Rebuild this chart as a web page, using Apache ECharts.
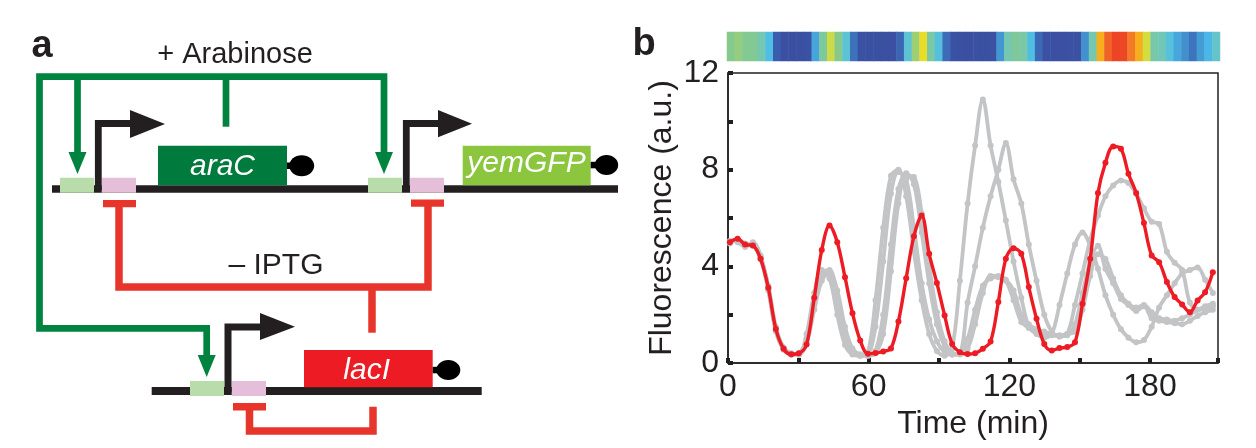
<!DOCTYPE html>
<html>
<head>
<meta charset="utf-8">
<script src="https://cdn.jsdelivr.net/npm/echarts@6/dist/echarts.min.js"></script>
<style>
html, body { margin: 0; padding: 0; background: #fff; }
#main { width: 1256px; height: 448px; }
</style>
</head>
<body>
<div id="main"></div>
<script>
// sampling times (min), shared by all traces
const times = [0.8, 4.1, 7.3, 10.6, 13.9, 17.2, 20.4, 23.7, 27.0, 30.2,
  33.5, 36.8, 40.0, 43.3, 46.6, 49.9, 53.1, 56.4, 59.7, 62.9,
  66.2, 69.5, 72.7, 76.0, 79.3, 82.6, 85.8, 89.1, 92.4, 95.6,
  98.9, 102.2, 105.4, 108.7, 112.0, 115.3, 118.5, 121.8, 125.1, 128.3,
  131.6, 134.9, 138.1, 141.4, 144.7, 148.0, 151.2, 154.5, 157.8, 161.0,
  164.3, 167.6, 170.8, 174.1, 177.4, 180.7, 183.9, 187.2, 190.5, 193.7,
  197.0, 200.3, 203.5, 206.8];

// highlighted cell (red) - also drives the colour strip
const redCell = [5.0, 5.14, 4.9, 4.86, 4.31, 3.11, 1.41, 0.59, 0.36, 0.4,
  0.77, 2.7, 4.68, 5.69, 5.0, 3.55, 2.06, 0.93, 0.38, 0.41,
  0.48, 0.6, 1.72, 3.51, 5.25, 6.1, 4.52, 3.31, 1.97, 0.79,
  0.45, 0.37, 0.4, 0.59, 0.89, 2.52, 4.31, 4.75, 4.52, 3.14,
  1.83, 0.79, 0.52, 0.62, 0.66, 0.86, 2.45, 4.31, 7.03, 8.29,
  8.96, 8.87, 7.83, 7.03, 5.79, 4.45, 4.17, 3.35, 2.73, 2.42,
  2.1, 2.59, 2.93, 3.76];

// other cells (grey)
const grayA = [5.0, 5.05, 4.85, 4.95, 4.4, 3.0, 1.3, 0.55, 0.35, 0.35,
  1.2, 2.9, 3.85, 3.5, 2.0, 0.75, 0.35, 0.3, 0.45, 2.6,
  5.6, 7.75, 8.0, 6.9, 4.6, 2.6, 1.2, 0.5, 0.3, 0.6,
  3.4, 6.6, 9.0, 10.9, 9.0, 7.5, 5.9, 4.2, 2.7, 1.5,
  1.2, 1.05, 1.2, 2.4, 3.7, 4.9, 5.4, 4.85, 3.9, 2.8,
  2.0, 1.4, 1.05, 0.86, 0.95, 1.5, 2.3, 2.8, 3.3, 3.7,
  3.85, 3.95, 3.45, 2.9];
const grayB = [4.95, 5.1, 4.95, 4.9, 4.35, 3.2, 1.5, 0.65, 0.4, 0.35,
  0.9, 2.4, 3.7, 3.85, 2.8, 1.3, 0.5, 0.35, 0.3, 0.5,
  2.0, 4.9, 7.2, 7.85, 7.4, 5.4, 3.3, 1.6, 0.7, 0.35,
  0.4, 2.5, 4.0, 5.6, 6.9, 8.0, 9.1, 7.6, 6.6, 4.9,
  3.4, 2.0, 1.3, 1.1, 1.2, 2.4, 3.7, 5.1, 6.1, 6.9,
  7.35, 7.55, 7.45, 7.0, 6.4, 5.85, 5.75, 4.6, 4.15, 3.85,
  2.5, 2.2, 2.25, 2.35];
const grayC = [5.05, 5.0, 4.8, 5.0, 4.45, 3.1, 1.35, 0.6, 0.35, 0.4,
  1.0, 2.6, 3.6, 3.7, 2.4, 1.0, 0.4, 0.3, 0.35, 1.5,
  4.2, 7.0, 7.9, 7.6, 5.6, 3.3, 1.8, 0.9, 0.45, 0.35,
  0.4, 1.0, 2.2, 3.2, 3.5, 3.55, 3.4, 2.6, 1.7, 1.45,
  1.25, 1.2, 1.15, 1.1, 1.15, 1.6, 2.9, 4.2, 4.85, 3.9,
  3.3, 2.65, 2.4, 2.15, 2.35, 1.85, 1.75, 1.7, 1.65, 1.6,
  1.75, 1.95, 2.1, 2.2];
const grayD = [5.0, 5.1, 4.9, 4.85, 4.3, 3.05, 1.4, 0.6, 0.35, 0.35,
  0.8, 2.2, 3.4, 3.75, 3.0, 1.5, 0.6, 0.35, 0.3, 0.4,
  1.2, 3.8, 6.6, 7.75, 7.7, 6.2, 4.0, 2.1, 0.9, 0.4,
  0.35, 0.6, 1.6, 2.9, 3.6, 3.6, 3.45, 3.0, 2.0, 1.6,
  1.4, 1.3, 1.2, 1.15, 1.2, 1.3, 2.2, 3.6, 4.5, 4.3,
  3.5, 2.8, 2.45, 2.3, 2.4, 2.1, 1.85, 1.8, 1.75, 1.85,
  2.0, 2.2, 2.35, 2.45];
const grayCells = [grayA, grayB, grayC, grayD];

const xTickLabels = [0, 60, 120, 180];
const yTickLabels = [0, 4, 8, 12];

const FONT = '"Liberation Sans", Arial, Helvetica, sans-serif';
const INK = '#231f20';
const GREEN = '#00833f';
const RED = '#e8352b';

// ---- panel a: circuit drawing ----
const G = [];
function rect(x, y, w, h, fill) {
  G.push({ type: 'rect', silent: true, shape: { x: x, y: y, width: w, height: h }, style: { fill: fill } });
}
function path(points, stroke, lw) {
  G.push({ type: 'polyline', silent: true, shape: { points: points },
    style: { stroke: stroke, lineWidth: lw, fill: null, lineJoin: 'miter', lineCap: 'butt' } });
}
function tri(points, fill) {
  G.push({ type: 'polygon', silent: true, shape: { points: points }, style: { fill: fill } });
}
function arrowDown(x, tipY) {
  tri([[x - 9, tipY - 22], [x + 9, tipY - 22], [x, tipY]], GREEN);
}
function blob(cx, cy, rx, ry) {
  G.push({ type: 'ellipse', silent: true, shape: { cx: cx, cy: cy, rx: rx, ry: ry }, style: { fill: '#000' } });
}
function label(text, x, y, font, fill) {
  G.push({ type: 'text', silent: true, x: x, y: y,
    style: { text: text, font: font, fill: fill, textAlign: 'center', textVerticalAlign: 'middle',
      align: 'center', verticalAlign: 'middle' } });
}

// DNA backbones
rect(52, 185.2, 566, 7.5, INK);
rect(151.7, 387, 330, 8, INK);
// operators
rect(60, 177.7, 34, 15, '#b9ddaa');
rect(101.7, 177.7, 34.3, 15, '#e5bfd9');
rect(368, 177.7, 34, 15, '#b9ddaa');
rect(410, 177.7, 34, 15, '#e5bfd9');
rect(190, 381, 34, 15, '#b9ddaa');
rect(231.7, 381, 34.3, 15, '#e5bfd9');
// promoters
path([[98.3, 190], [98.3, 123.5], [132, 123.5]], INK, 6.8);
tri([[130, 110], [165, 124], [130, 138]], INK);
path([[406.3, 190], [406.3, 123.5], [440, 123.5]], INK, 6.8);
tri([[438, 110], [472, 123.7], [438, 137.3]], INK);
path([[228, 392], [228, 327], [262, 327]], INK, 7);
tri([[260, 313], [295, 326.7], [260, 340]], INK);
// genes
rect(158, 145.7, 129, 39.5, '#007a3d');
rect(462.7, 145.7, 128, 39.5, '#8cc63f');
rect(304, 350, 128.7, 37.3, '#ed1c24');
label('araC', 222.5, 166.2, 'italic 30px ' + FONT, '#fff');
label('yemGFP', 526.5, 163.5, 'italic 30px ' + FONT, '#fff');
label('lacI', 366.7, 371, 'italic 30px ' + FONT, '#fff');
// terminators
rect(287, 162.5, 10, 6.5, '#000');
blob(301.7, 165.7, 12.5, 10.5);
rect(590.7, 161.8, 9, 6.5, '#000');
blob(606.5, 165, 11.7, 10);
rect(432.7, 366.8, 9, 6.5, '#000');
blob(448.3, 370, 12, 10);
// arabinose / AraC activation
path([[206.7, 356], [206.7, 328.3], [39.5, 328.3], [39.5, 76.7], [384, 76.7], [384, 153]], GREEN, 6.7);
path([[77.5, 76.7], [77.5, 153]], GREEN, 6.7);
path([[226, 76.7], [226, 126.7]], GREEN, 6.7);
arrowDown(77.5, 174);
arrowDown(384, 174);
arrowDown(206.7, 377);
// IPTG / LacI repression
rect(103, 200, 33, 7.3, RED);
rect(411, 199.5, 33, 7.3, RED);
rect(233, 403, 33, 7.5, RED);
path([[119, 204], [119, 287], [428, 287], [428, 204]], RED, 7.5);
path([[372, 287], [372, 332.7]], RED, 7.5);
path([[249.5, 407], [249.5, 431], [373, 431], [373, 406.7]], RED, 7.5);
// texts
label('a', 42, 46.7, 'bold 38px ' + FONT, INK);
label('+ Arabinose', 235, 54.5, '29px ' + FONT, INK);
label('\u2013 IPTG', 276, 265.5, '30px ' + FONT, INK);
label('b', 644, 44.7, 'bold 38px ' + FONT, INK);

// ---- panel b ----
const lineSeries = grayCells.map(function (g) {
  return {
    type: 'line', xAxisIndex: 0, yAxisIndex: 0,
    data: times.map(function (t, i) { return [t, g[i]]; }),
    smooth: 0.35, symbol: 'circle', symbolSize: 6, showAllSymbol: true,
    lineStyle: { color: '#c3c4c6', width: 3.8 },
    itemStyle: { color: '#c3c4c6' },
    silent: true, z: 2
  };
});
lineSeries.push({
  type: 'line', xAxisIndex: 0, yAxisIndex: 0,
  data: times.map(function (t, i) { return [t, redCell[i]]; }),
  smooth: 0.35, symbol: 'circle', symbolSize: 6, showAllSymbol: true,
  lineStyle: { color: '#ed1c24', width: 3.4 },
  itemStyle: { color: '#ed1c24' },
  silent: true, z: 3
});
const stripIndex = lineSeries.length;
lineSeries.push({
  type: 'heatmap', xAxisIndex: 1, yAxisIndex: 1,
  data: redCell.map(function (v, i) { return [i, 0, v]; }),
  itemStyle: { borderWidth: 0 },
  silent: true
});

const chart = echarts.init(document.getElementById('main'), null, { renderer: 'canvas' });
chart.setOption({
  animation: false,
  backgroundColor: '#fff',
  graphic: G,
  grid: [
    { left: 728, top: 73, width: 490, height: 290, show: true, borderColor: INK, borderWidth: 1.5,
      backgroundColor: 'transparent', containLabel: false, outerBoundsMode: 'none' },
    { left: 727, top: 32, width: 493, height: 29, containLabel: false, outerBoundsMode: 'none' }
  ],
  xAxis: [
    {
      type: 'value', gridIndex: 0, min: 0, max: 209, interval: 30,
      axisLine: { show: true, lineStyle: { color: INK, width: 1.5 } },
      axisTick: { show: true, inside: true, length: 5, lineStyle: { color: INK, width: 4 } },
      axisLabel: {
        fontSize: 32, color: INK, fontFamily: FONT, margin: 8,
        formatter: function (v) { return xTickLabels.indexOf(v) >= 0 ? String(v) : ''; }
      },
      splitLine: { show: false },
      name: 'Time (min)', nameLocation: 'middle', nameGap: 45,
      nameTextStyle: { fontSize: 32, color: INK, fontFamily: FONT }
    },
    {
      type: 'category', gridIndex: 1, data: times.map(String),
      axisLine: { show: false }, axisTick: { show: false }, axisLabel: { show: false },
      splitLine: { show: false }
    }
  ],
  yAxis: [
    {
      type: 'value', gridIndex: 0, min: 0, max: 12, interval: 2,
      axisLine: { show: true, lineStyle: { color: INK, width: 1.5 } },
      axisTick: { show: true, inside: true, length: 5, lineStyle: { color: INK, width: 4 } },
      axisLabel: {
        fontSize: 32, color: INK, fontFamily: FONT, margin: 9,
        formatter: function (v) { return yTickLabels.indexOf(v) >= 0 ? String(v) : ''; }
      },
      splitLine: { show: false },
      name: 'Fluorescence (a.u.)', nameLocation: 'middle', nameGap: 50,
      nameTextStyle: { fontSize: 32, color: INK, fontFamily: FONT }
    },
    {
      type: 'category', gridIndex: 1, data: [''],
      axisLine: { show: false }, axisTick: { show: false }, axisLabel: { show: false },
      splitLine: { show: false }
    }
  ],
  visualMap: {
    type: 'continuous', show: false, seriesIndex: stripIndex, dimension: 2,
    min: 0, max: 9,
    inRange: { color: ['#3a4e9f', '#3b52a4', '#3d6cb9', '#4bbde9', '#6cc6c0',
      '#86c98d', '#e9e22a', '#f6b01e', '#f2702a', '#ec4224'] }
  },
  series: lineSeries
});
</script>
</body>
</html>
